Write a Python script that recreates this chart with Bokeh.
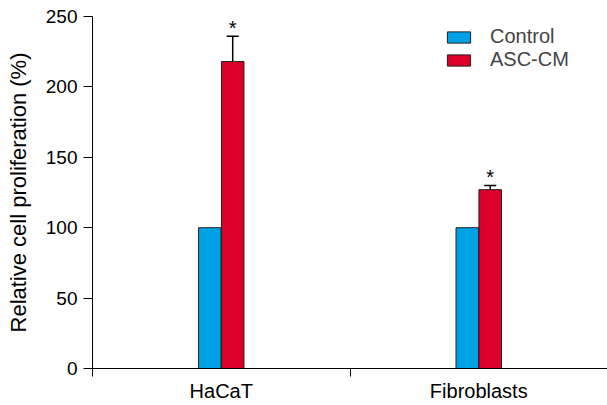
import numpy as np
from bokeh.plotting import figure
from bokeh.models import (ColumnDataSource, Range1d, FixedTicker, Whisker, TeeHead,
                          Legend, LegendItem)
from bokeh.core.properties import value
from bokeh.embed import file_html
from bokeh.resources import INLINE

categories = ["HaCaT", "Fibroblasts"]
control = [100, 100]
asc_cm = [218, 127]
asc_err = [18, 3]
stars = ["*", "*"]
y_ticks = [0, 50, 100, 150, 200, 250]

FONT = "Liberation Sans"
BLUE = "#00a2e6"
RED = "#dc0028"
EDGE = "#231f20"

idx = np.arange(len(categories)) + 0.5
off = 0.0445
bw = 0.0875

src = ColumnDataSource(dict(
    xc=idx - off, xa=idx + off,
    control=control, asc=asc_cm,
    upper=np.array(asc_cm) + np.array(asc_err),
    stars=stars,
))

p = figure(width=607, height=405, output_backend="svg", toolbar_location=None,
           x_range=Range1d(0, len(categories)), y_range=Range1d(0, 250),
           min_border_left=92, min_border_top=16, min_border_right=0,
           min_border_bottom=37)
p.outline_line_color = None
p.xgrid.visible = False
p.ygrid.visible = False
p.background_fill_color = "white"

r1 = p.vbar(x="xc", top="control", bottom=0, width=bw, source=src,
            fill_color=BLUE, line_color=EDGE, line_width=1)
r2 = p.vbar(x="xa", top="asc", bottom=0, width=bw, source=src,
            fill_color=RED, line_color=EDGE, line_width=1)

w = Whisker(base="xa", upper="upper", lower="asc", source=src,
            line_color="black", line_width=1.5,
            upper_head=TeeHead(size=12, line_color="black", line_width=1.5),
            lower_head=None)
p.add_layout(w)

p.text(x="xa", y="upper", text="stars", source=src,
       text_font=value(FONT), text_font_size="20px", text_color="black",
       text_align="center", text_baseline="alphabetic", y_offset=-8)

# x axis
xax = p.xaxis[0]
xax.ticker = FixedTicker(ticks=list(idx), minor_ticks=[0, 1])
xax.major_label_overrides = {float(v): c for v, c in zip(idx, categories)}
xax.major_tick_line_color = None
xax.major_tick_out = 0
xax.major_tick_in = 0
xax.minor_tick_line_color = "black"
xax.minor_tick_out = 8
xax.minor_tick_in = 0
xax.major_label_standoff = 3
xax.major_label_text_font = FONT
xax.major_label_text_font_size = "20px"
xax.major_label_text_color = "black"
xax.axis_line_color = "black"

# y axis
yax = p.yaxis[0]
yax.ticker = FixedTicker(ticks=y_ticks, minor_ticks=[])
yax.major_tick_out = 9
yax.major_tick_in = 0
yax.major_label_standoff = 6
yax.major_label_text_font = FONT
yax.major_label_text_font_size = "19px"
yax.major_label_text_color = "black"
yax.axis_label = "Relative cell proliferation (%)"
yax.axis_label_text_font = FONT
yax.axis_label_text_font_size = "22px"
yax.axis_label_text_font_style = "normal"
yax.axis_label_text_color = "black"
yax.axis_label_standoff = 12
yax.axis_line_color = "black"

legend = Legend(items=[LegendItem(label="Control", renderers=[r1]),
                       LegendItem(label="ASC-CM", renderers=[r2])],
                location=(352, 297), padding=0, spacing=0,
                glyph_width=29, glyph_height=14, label_standoff=17,
                label_text_font=FONT, label_text_font_size="20px",
                border_line_color=None, background_fill_alpha=0)
p.add_layout(legend)

open("out.html", "w").write(file_html(p, INLINE))
